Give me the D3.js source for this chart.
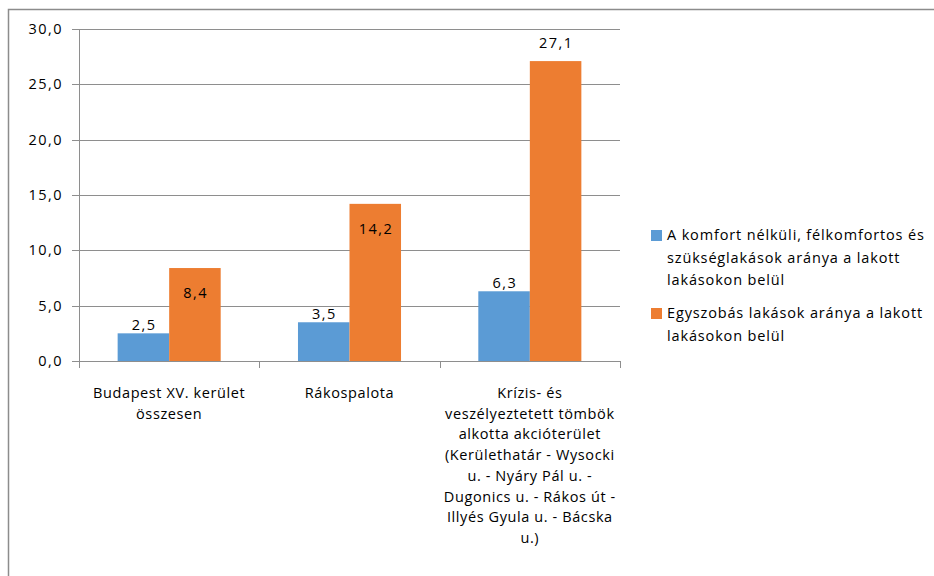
<!DOCTYPE html>
<html>
<head>
<meta charset="utf-8">
<script src="https://cdn.jsdelivr.net/npm/d3@7"></script>
<style>
  body { margin: 0; background: #fff; }
  svg text { font-family: "Open Sans", "Liberation Sans", sans-serif; fill: #000; font-size: 14.5px; }
  svg text.num { letter-spacing: 1.5px; }
  svg text.lbl { letter-spacing: 0.6px; }
  svg text.leg { letter-spacing: 0.85px; }
</style>
</head>
<body>
<div id="chart"></div>
<script>
// categories (each entry is the wrapped lines of the axis label)
var categories = [
  ['Budapest XV. kerület', 'összesen'],
  ['Rákospalota'],
  ['Krízis- és', 'veszélyeztetett tömbök', 'alkotta akcióterület', '(Kerülethatár - Wysocki', 'u. - Nyáry Pál u. -', 'Dugonics u. - Rákos út -', 'Illyés Gyula u. - Bácska', 'u.)']
];
var seriesNames = [
  ['A komfort nélküli, félkomfortos és', 'szükséglakások aránya a lakott', 'lakásokon belül'],
  ['Egyszobás lakások aránya a lakott', 'lakásokon belül']
];
var komfortNelkuli = [2.5, 3.5, 6.3];
var egyszobas = [8.4, 14.2, 27.1];
var yTicks = [0, 5, 10, 15, 20, 25, 30];

var colors = ['#5b9bd5', '#ed7d31'];
var series = [komfortNelkuli, egyszobas];

var width = 934, height = 576;
var svg = d3.select('#chart').append('svg')
  .attr('width', width)
  .attr('height', height);

// outer chart frame
svg.append('path')
  .attr('d', 'M8.5,' + height + 'V9.5H' + width)
  .attr('fill', 'none')
  .attr('stroke', '#8c8c8c')
  .attr('stroke-width', 1.5);

var plotL = 79, plotR = 620, plotT = 29, plotB = 361;
var fmt = function(v) { return d3.format('.1f')(v).replace('.', ','); };

var x = d3.scaleBand()
  .domain(d3.range(categories.length))
  .range([plotL, plotR]);
var xSub = d3.scaleBand()
  .domain(d3.range(series.length))
  .range([0, x.bandwidth()])
  .paddingOuter(0.75)
  .paddingInner(0);
var y = d3.scaleLinear().domain([0, 30]).range([plotB, plotT]);

// gridlines
svg.append('g').selectAll('line')
  .data(yTicks)
  .enter().append('line')
  .attr('x1', plotL - 7).attr('x2', plotR)
  .attr('y1', d => Math.round(y(d)) + 0.5)
  .attr('y2', d => Math.round(y(d)) + 0.5)
  .attr('stroke', '#8e8e8e')
  .attr('stroke-width', 1);

// y axis line
svg.append('line')
  .attr('x1', plotL + 0.5).attr('x2', plotL + 0.5)
  .attr('y1', plotT).attr('y2', plotB)
  .attr('stroke', '#8e8e8e');

// y tick labels
svg.append('g').selectAll('text')
  .data(yTicks)
  .enter().append('text')
  .attr('class', 'num')
  .attr('x', plotL - 16)
  .attr('y', d => y(d) + 5)
  .attr('text-anchor', 'end')
  .text(d => fmt(d));

// x tick marks
svg.append('g').selectAll('line')
  .data(d3.range(categories.length + 1))
  .enter().append('line')
  .attr('x1', d => Math.round(plotL + d * x.step()) + 0.5)
  .attr('x2', d => Math.round(plotL + d * x.step()) + 0.5)
  .attr('y1', plotB).attr('y2', plotB + 7)
  .attr('stroke', '#8e8e8e');

// bars
series.forEach(function(vals, s) {
  svg.append('g').selectAll('rect')
    .data(vals)
    .enter().append('rect')
    .attr('x', (d, i) => x(i) + xSub(s))
    .attr('width', xSub.bandwidth())
    .attr('y', d => y(d))
    .attr('height', d => plotB - y(d))
    .attr('fill', colors[s]);

  // value labels
  svg.append('g').selectAll('text')
    .data(vals)
    .enter().append('text')
    .attr('class', 'num')
    .attr('x', (d, i) => x(i) + xSub(s) + xSub.bandwidth() / 2 + 0.75)
    .attr('y', function(d) {
      if (s === 0) return y(d) - 3;
      if (d < 20) return y(d) + 30;
      return y(d) - 13;
    })
    .attr('text-anchor', 'middle')
    .text(d => fmt(d));
});

// category labels
categories.forEach(function(lines, i) {
  var cx = x(i) + x.bandwidth() / 2;
  var t = svg.append('text')
    .attr('class', 'lbl')
    .attr('x', cx)
    .attr('y', 398)
    .attr('text-anchor', 'middle');
  lines.forEach(function(l, j) {
    t.append('tspan')
      .attr('x', cx)
      .attr('dy', j === 0 ? 0 : 20.7)
      .text(l);
  });
});

// legend
var legendTop = [235, 313];
seriesNames.forEach(function(lines, s) {
  svg.append('rect')
    .attr('x', 651).attr('y', legendTop[s] - 5)
    .attr('width', 11).attr('height', 11)
    .attr('fill', colors[s]);
  var t = svg.append('text')
    .attr('class', 'leg')
    .attr('x', 667)
    .attr('y', legendTop[s] + 5);
  lines.forEach(function(l, j) {
    t.append('tspan')
      .attr('x', 667)
      .attr('dy', j === 0 ? 0 : 22.5)
      .text(l);
  });
});
</script>
</body>
</html>
